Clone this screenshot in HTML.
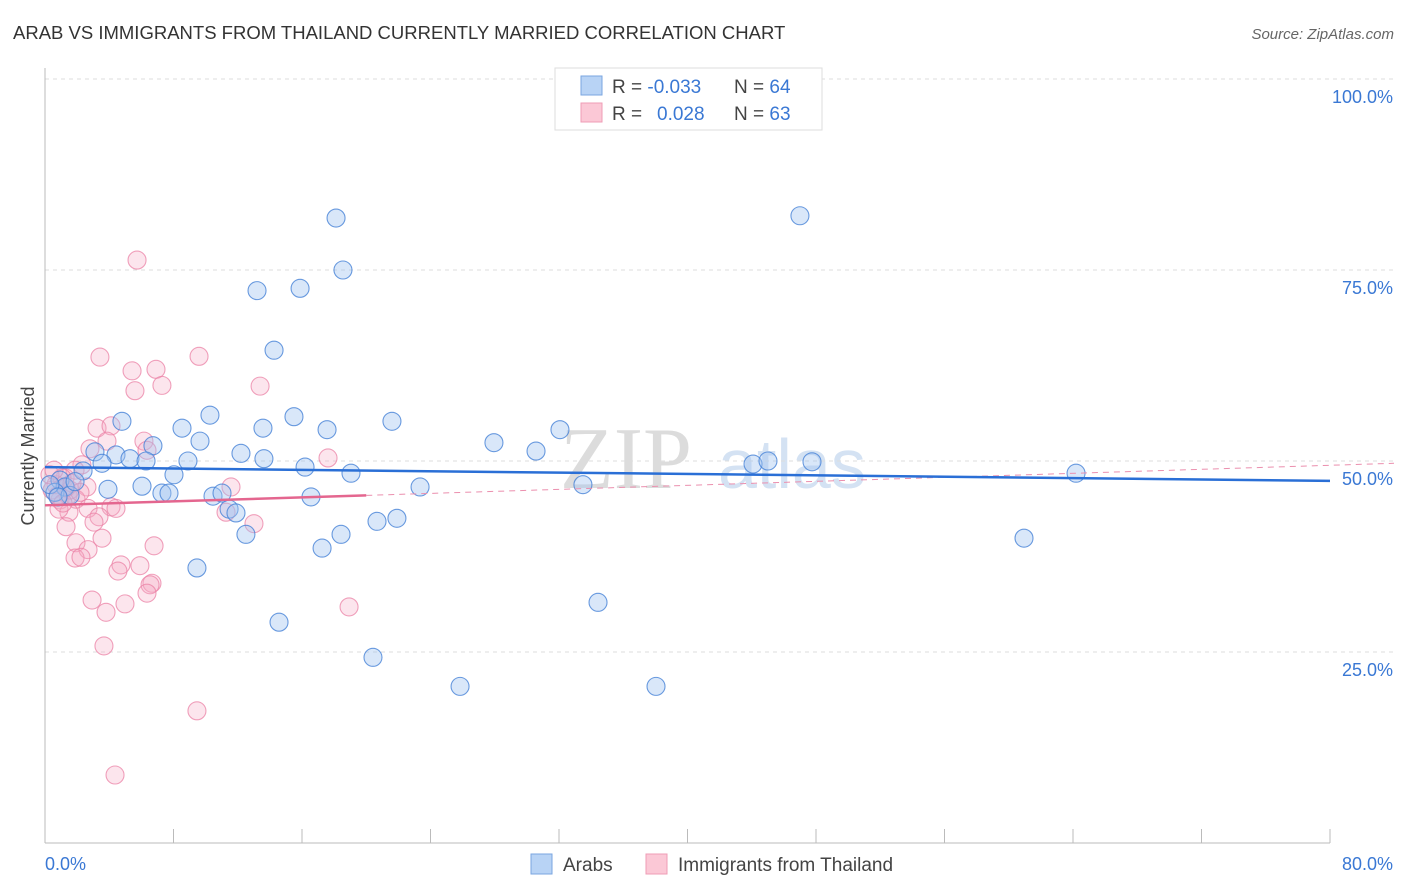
<!DOCTYPE html>
<html><head><meta charset="utf-8"><style>
body{margin:0;background:#fff;font-family:"Liberation Sans",sans-serif}
#wrap{position:relative;width:1406px;height:892px;overflow:hidden}
</style></head><body>
<div id="wrap">
<svg id="svg" width="1406" height="892" xmlns="http://www.w3.org/2000/svg">
<text x="13" y="39" font-size="18.5" fill="#333">ARAB VS IMMIGRANTS FROM THAILAND CURRENTLY MARRIED CORRELATION CHART</text>
<text x="1394" y="39" font-size="15" fill="#666" font-style="italic" text-anchor="end">Source: ZipAtlas.com</text>
<text x="560" y="488" font-size="88" fill="#dcdcdc" font-family="Liberation Serif,serif">ZIP</text>
<text x="718" y="488" font-size="70" fill="#d4e2f3">atlas</text>
<g id="grid"></g>
<line x1="45" y1="68" x2="45" y2="843" stroke="#bbb"/>
<line x1="45" y1="843" x2="1330" y2="843" stroke="#bbb"/>
<g id="xt"></g>
<text x="34" y="456" font-size="18" fill="#444" text-anchor="middle" transform="rotate(-90 34 456)">Currently Married</text>
<g id="pts"></g>
<g id="lines"></g>
<g>
<rect x="555" y="68" width="267" height="62" fill="#fff" stroke="#ddd"/>
<rect x="581" y="76" width="21" height="19" fill="#b8d3f5" stroke="#7aa6e0"/>
<rect x="581" y="103" width="21" height="19" fill="#fbc8d6" stroke="#ef9cb6"/>
<text x="612" y="93" font-size="19" fill="#444">R = <tspan fill="#3a78d4">-0.033</tspan><tspan x="734">N = </tspan><tspan fill="#3a78d4">64</tspan></text>
<text x="612" y="120" font-size="19" fill="#444">R = <tspan x="657" fill="#3a78d4">0.028</tspan><tspan x="734">N = </tspan><tspan fill="#3a78d4">63</tspan></text>
</g>
<g>
<rect x="531" y="854" width="21" height="20" fill="#b8d3f5" stroke="#7aa6e0"/>
<text x="563" y="871" font-size="19" fill="#444">Arabs</text>
<rect x="646" y="854" width="21" height="20" fill="#fbc8d6" stroke="#ef9cb6"/>
<text x="678" y="871" font-size="19" fill="#444">Immigrants from Thailand</text>
</g>
</svg>
</div>
<script>
const yTicks=[25,50,75,100];
const yTickLabels=["25.0%","50.0%","75.0%","100.0%"];
const xTicks=[0,8,16,24,32,40,48,56,64,72,80];
const xEndLabels=["0.0%","80.0%"];
const arabX=[18.12,47.0,18.55,13.2,15.88,14.26,4.79,10.27,15.5,21.6,8.53,13.57,17.56,32.06,9.65,6.72,27.95,3.11,12.2,4.42,30.57,5.29,6.29,13.63,8.9,3.55,16.19,19.05,8.03,2.37,44.08,45.01,47.75,64.19,33.49,23.35,3.92,6.04,7.28,7.72,10.46,11.02,16.56,11.46,11.89,20.67,21.91,12.51,18.43,17.25,60.95,9.46,34.43,14.57,20.42,25.84,38.04,0.93,1.25,0.62,0.31,1.56,1.87,0.81];
const arabY=[81.8,82.1,75.0,72.3,72.6,64.5,55.2,56.0,55.8,55.2,54.3,54.3,54.1,54.1,52.6,52.0,52.4,51.2,51.0,50.8,51.3,50.3,50.0,50.3,50.0,49.7,49.2,48.4,48.2,48.7,49.6,50.0,49.9,48.4,46.9,46.6,46.3,46.7,45.8,45.8,45.4,45.8,45.3,43.7,43.2,42.1,42.5,40.4,40.4,38.6,39.9,36.0,31.5,28.9,24.3,20.5,20.5,47.5,46.6,45.9,46.9,45.5,47.3,45.3];
const thaiX=[5.73,3.42,9.59,6.91,5.42,7.28,5.6,13.39,3.24,4.11,6.16,2.8,3.86,6.35,17.62,2.3,1.25,1.87,2.61,11.58,0.93,1.43,1.93,2.68,4.11,4.42,11.27,13.01,3.36,3.05,1.49,0.87,1.31,3.55,6.79,1.93,2.68,1.87,2.24,4.73,5.91,4.54,6.66,6.54,6.35,2.93,4.98,3.8,18.93,3.67,9.46,4.36,0.44,0.68,1.06,1.56,0.31,0.81,1.31,1.68,2.18,0.56,1.12];
const thaiY=[76.3,63.6,63.7,62.0,61.8,59.9,59.2,59.8,54.3,54.6,52.6,51.6,52.6,51.4,50.4,49.5,47.8,48.8,46.6,46.6,44.9,45.5,45.0,43.8,44.0,43.8,43.3,41.8,42.7,42.0,43.3,43.7,41.4,39.9,38.9,39.3,38.4,37.3,37.4,36.4,36.3,35.6,34.0,33.8,32.7,31.8,31.3,30.2,30.9,25.8,17.3,8.9,46.2,46.9,47.8,46.2,48.2,45.5,46.5,47.1,45.9,48.8,44.5];
const arabTrend=[49.2,47.4];
const thaiTrend=[44.2,45.5,49.7];
const NS="http://www.w3.org/2000/svg";
const sx=v=>45+v*1285/80;
const sy=v=>843-v*7.64;
function mk(t,a,p){const e=document.createElementNS(NS,t);for(const k in a)e.setAttribute(k,a[k]);p.appendChild(e);return e;}
const grid=document.getElementById('grid');
yTicks.forEach((t,i)=>{
 const l=mk('line',{x1:45,x2:1394,y1:sy(t),y2:sy(t),stroke:'#ddd','stroke-dasharray':'4,4'},grid);
 
 
 const tx=mk('text',{x:1393,y:sy(t)+24,'font-size':18,fill:'#3a78d4','text-anchor':'end'},grid);
 tx.textContent=yTickLabels[i];
 
 
});
const xt=document.getElementById('xt');
xTicks.forEach(t=>{
 const l=mk('line',{x1:sx(t),x2:sx(t),y1:829,y2:843,stroke:'#bbb'},xt);
 
 
});
const t0=mk('text',{x:45,y:870,'font-size':18,fill:'#3a78d4'},xt);t0.textContent=xEndLabels[0];


const t1=mk('text',{x:1393,y:870,'font-size':18,fill:'#3a78d4','text-anchor':'end'},xt);t1.textContent=xEndLabels[1];


const pts=document.getElementById('pts');
thaiX.forEach((x,i)=>{
 const c=mk('circle',{cx:sx(x),cy:sy(thaiY[i]),r:9,fill:'rgba(245,170,196,0.3)',stroke:'rgba(235,130,165,0.75)','stroke-width':1.1},pts);
 
 
});
arabX.forEach((x,i)=>{
 const c=mk('circle',{cx:sx(x),cy:sy(arabY[i]),r:9,fill:'rgba(160,196,240,0.4)',stroke:'rgba(70,130,215,0.8)','stroke-width':1.1},pts);
 
 
});
const lines=document.getElementById('lines');
const pd=mk('line',{x1:sx(20),y1:sy(thaiTrend[1]),x2:1394,y2:sy(thaiTrend[2]),stroke:'#eb8fae','stroke-width':1,'stroke-dasharray':'6,5'},lines);


const ps=mk('line',{x1:sx(0),y1:sy(thaiTrend[0]),x2:sx(20),y2:sy(thaiTrend[1]),stroke:'#e4668f','stroke-width':2.5},lines);


const bl=mk('line',{x1:sx(0),y1:sy(arabTrend[0]),x2:sx(80),y2:sy(arabTrend[1]),stroke:'#2a6fd6','stroke-width':2.5},lines);


</script>
</body></html>
